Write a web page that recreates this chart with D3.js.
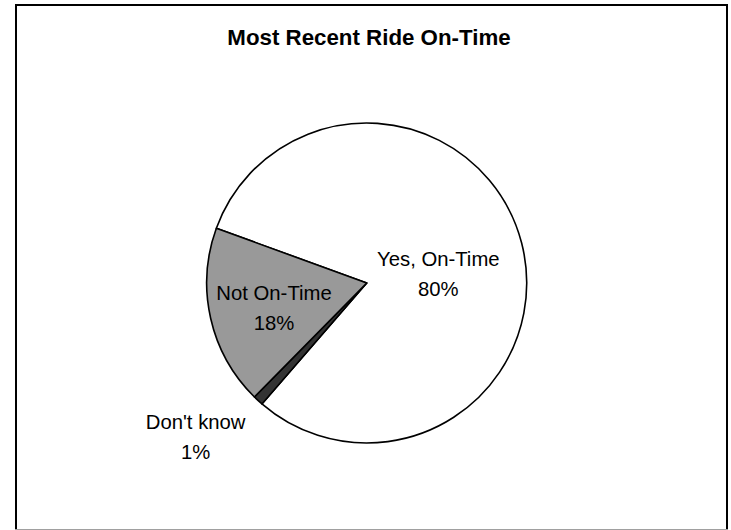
<!DOCTYPE html>
<html>
<head>
<meta charset="utf-8">
<script src="https://cdn.jsdelivr.net/npm/d3@7"></script>
<style>
  html, body { margin: 0; padding: 0; background: #fff; }
  svg { display: block; }
  text { font-family: "Liberation Sans", Arial, sans-serif; }
</style>
</head>
<body>
<svg id="chart" width="731" height="530"></svg>
<script>
const title = "Most Recent Ride On-Time";
const categories = ["Yes, On-Time", "Don't know", "Not On-Time"];
const values = [80, 1, 18];
const labels = ["80%", "1%", "18%"];
const colors = ["#ffffff", "#333333", "#999999"];

const svg = d3.select("#chart");
const W = 731, H = 530;

// Frame
svg.append("rect").attr("x", 0).attr("y", 0).attr("width", W).attr("height", H).attr("fill", "#fff");
svg.append("rect")
  .attr("x", 16).attr("y", 5).attr("width", 711).attr("height", 540)
  .attr("fill", "#fff").attr("stroke", "#000").attr("stroke-width", 2);
svg.append("line").attr("x1", 15).attr("x2", 728).attr("y1", 529.5).attr("y2", 529.5)
  .attr("stroke", "#a0a0a0").attr("stroke-width", 1);

// Title
svg.append("text")
  .attr("x", 369).attr("y", 45)
  .attr("text-anchor", "middle")
  .attr("font-weight", "bold")
  .attr("font-size", "22.3px")
  .attr("fill", "#000")
  .text(title);

// Pie
const cx = 366.7, cy = 283, R = 160;
const start = -70 * Math.PI / 180;
const pie = d3.pie().sort(null).value(d => d)
  .startAngle(start).endAngle(start + 2 * Math.PI);
const arcs = pie(values);
const arc = d3.arc().innerRadius(0).outerRadius(R);

const g = svg.append("g").attr("transform", `translate(${cx},${cy})`);
g.selectAll("path").data(arcs).enter().append("path")
  .attr("d", arc)
  .attr("fill", (d, i) => colors[i])
  .attr("stroke", "#000")
  .attr("stroke-width", 1.6)
  .attr("stroke-linejoin", "round");

// Labels: radius along mid-angle, plus small adjustments
const labelR = [74, 230, 95];
const labelShift = [[0, 6], [-15, -19], [0, 0]];
arcs.forEach((d, i) => {
  const a = (d.startAngle + d.endAngle) / 2;
  const x = Math.sin(a) * labelR[i] + labelShift[i][0];
  const y = -Math.cos(a) * labelR[i] + labelShift[i][1];
  const t = g.append("text")
    .attr("text-anchor", "middle")
    .attr("font-size", "20.3px")
    .attr("fill", "#000");
  t.append("tspan").attr("x", x).attr("y", y - 4).text(categories[i]);
  t.append("tspan").attr("x", x).attr("y", y + 26).text(labels[i]);
});
</script>
</body>
</html>
